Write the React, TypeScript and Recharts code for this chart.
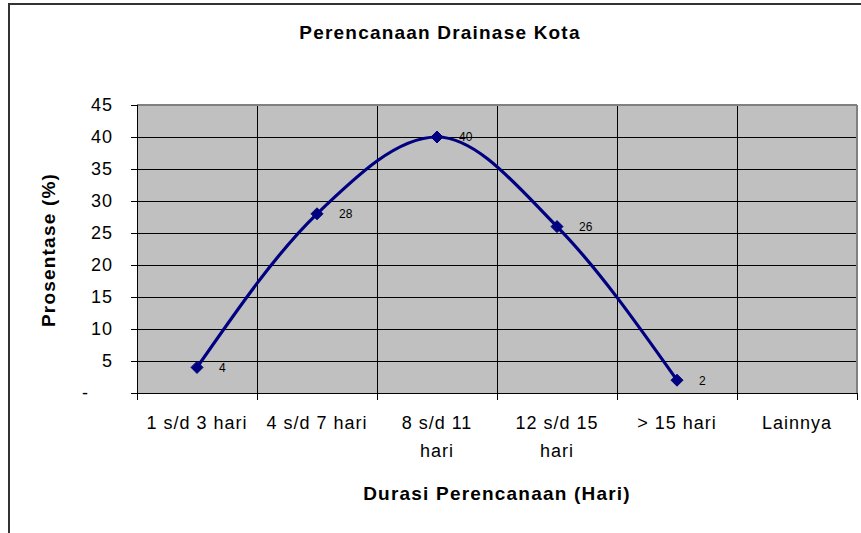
import React from 'react';
import { LineChart, Line, XAxis, YAxis, CartesianGrid, ReferenceLine, LabelList } from 'recharts';

const categories = [
  ['1 s/d 3 hari'],
  ['4 s/d 7 hari'],
  ['8 s/d 11', 'hari'],
  ['12 s/d 15', 'hari'],
  ['> 15 hari'],
  ['Lainnya'],
];
const values: (number | null)[] = [4, 28, 40, 26, 2, null];
const yTicks = [0, 5, 10, 15, 20, 25, 30, 35, 40, 45];
const xBounds = [0, 1, 2, 3, 4, 5, 6];

const title = 'Perencanaan Drainase Kota';
const yTitle = 'Prosentase (%)';
const xTitle = 'Durasi Perencanaan (Hari)';

const data = values.map((v, i) => ({ x: i + 0.5, value: v }));

const W = 861;
const H = 533;
const PLOT_LEFT = 137;
const PLOT_RIGHT = 857;
const BAND = (PLOT_RIGHT - PLOT_LEFT) / categories.length;
const FONT = '"Liberation Sans", Arial, sans-serif';
const NAVY = '#000080';

function XTick({ x, y, payload }: any) {
  const lines = categories[payload.value];
  if (!lines) return null;
  return (
    <text x={x + BAND / 2} y={y + 27} textAnchor="middle" fontSize={18} letterSpacing={1} fill="#000" fontFamily={FONT}>
      {lines.map((l, i) => (
        <tspan key={i} x={x + BAND / 2} dy={i === 0 ? 0 : 28}>{l}</tspan>
      ))}
    </text>
  );
}

function YTick({ x, y, payload }: any) {
  const v = payload.value;
  return (
    <text x={v === 0 ? x - 24 : x} y={y} dy="0.36em" textAnchor="end" fontSize={18} letterSpacing={1} fill="#000" fontFamily={FONT}>
      {v === 0 ? '-' : v}
    </text>
  );
}

function Diamond({ cx, cy, payload }: any) {
  if (payload.value == null || cx == null || cy == null) return null;
  const r = 6;
  return <polygon points={`${cx},${cy - r} ${cx + r},${cy} ${cx},${cy + r} ${cx - r},${cy}`} fill={NAVY} stroke={NAVY} />;
}

function PointLabel({ x, y, value }: any) {
  if (value == null) return null;
  return (
    <text x={x + 22} y={y} dy="0.36em" fontSize={12} fill="#000" fontFamily={FONT}>
      {value}
    </text>
  );
}

export default function App() {
  return (
    <div style={{ position: 'absolute', left: 0, top: 0, width: W, height: H, overflow: 'hidden', background: '#fff' }}>
      <div style={{ position: 'absolute', left: 8, top: 3, width: 1000, height: 700, border: '2px solid #333' }} />
      <LineChart width={W} height={H} data={data} margin={{ top: 105, right: W - PLOT_RIGHT, bottom: 80, left: 0 }}>
        <CartesianGrid fill="#c0c0c0" stroke="#000" strokeWidth={1} shapeRendering="crispEdges" />
        <XAxis
          type="number"
          dataKey="x"
          domain={[0, 6]}
          ticks={xBounds}
          interval={0}
          height={60}
          tickSize={7}
          axisLine={{ stroke: '#000', shapeRendering: 'crispEdges' }}
          tickLine={{ stroke: '#000', shapeRendering: 'crispEdges' }}
          tick={<XTick />}
        />
        <YAxis
          type="number"
          domain={[0, 45]}
          ticks={yTicks}
          interval={0}
          width={PLOT_LEFT}
          tickSize={6}
          tickMargin={18}
          axisLine={{ stroke: '#000', shapeRendering: 'crispEdges' }}
          tickLine={{ stroke: '#000', shapeRendering: 'crispEdges' }}
          tick={<YTick />}
        />
        <ReferenceLine y={45} stroke="#808080" strokeWidth={2} />
        <ReferenceLine x={6} stroke="#808080" strokeWidth={2} />
        <Line
          type="monotone"
          dataKey="value"
          stroke={NAVY}
          strokeWidth={3.2}
          dot={<Diamond />}
          activeDot={false}
          isAnimationActive={false}
        >
          <LabelList dataKey="value" content={<PointLabel />} />
        </Line>
      </LineChart>
      <svg width={W} height={H} style={{ position: 'absolute', left: 0, top: 0, pointerEvents: 'none' }}>
        <text x={440} y={32} dy="0.36em" textAnchor="middle" fontSize={19} fontWeight="bold" letterSpacing={1.2} fontFamily={FONT}>
          {title}
        </text>
        <text x={497} y={493} dy="0.36em" textAnchor="middle" fontSize={19} fontWeight="bold" letterSpacing={1.2} fontFamily={FONT}>
          {xTitle}
        </text>
        <text transform="translate(48,250) rotate(-90)" dy="0.36em" textAnchor="middle" fontSize={19} fontWeight="bold" letterSpacing={1.2} fontFamily={FONT}>
          {yTitle}
        </text>
      </svg>
    </div>
  );
}
